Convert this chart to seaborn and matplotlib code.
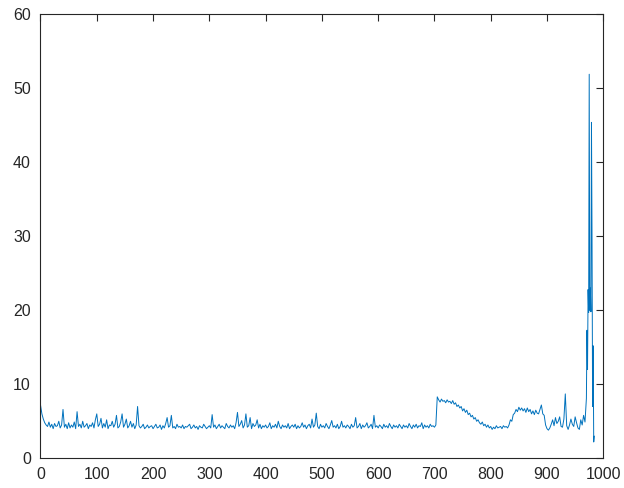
import numpy as np
import pandas as pd
import matplotlib
matplotlib.use("Agg")
import matplotlib.pyplot as plt
import seaborn as sns

# readings every 2.5 units from 0 to 967.5, grouped by 50-unit spans
y_000 = [7.2, 6.0, 5.3, 4.8, 4.5, 4.3, 4.9, 4.2, 4.6, 4.0, 4.7, 4.3, 4.4, 5.0, 4.1, 4.5, 6.6, 4.2, 4.6, 4.0]
y_050 = [4.8, 4.1, 4.5, 4.2, 4.9, 4.0, 6.3, 4.3, 4.6, 4.1, 5.0, 4.2, 4.4, 4.7, 4.0, 4.5, 4.3, 4.8, 4.1, 5.2]
y_100 = [6.0, 4.3, 4.6, 5.4, 4.1, 4.7, 4.2, 5.2, 4.0, 4.5, 4.4, 5.0, 4.2, 4.6, 5.8, 4.1, 4.3, 4.9, 6.0, 4.2]
y_150 = [4.6, 5.3, 4.1, 4.4, 5.0, 4.2, 4.7, 4.0, 4.5, 7.0, 4.4, 4.1, 4.3, 4.6, 4.0, 4.2, 4.5, 4.1, 4.3, 4.4]
y_200 = [4.0, 4.3, 4.6, 4.1, 4.2, 4.5, 3.9, 4.4, 4.1, 4.7, 5.5, 4.2, 4.4, 5.8, 4.1, 4.3, 4.0, 4.6, 4.2, 4.3]
y_250 = [4.1, 4.5, 4.0, 4.3, 4.2, 4.4, 4.6, 4.0, 4.2, 4.5, 4.1, 4.3, 3.9, 4.4, 4.2, 4.1, 4.6, 4.3, 4.0, 4.2]
y_300 = [4.4, 4.1, 5.9, 4.2, 4.5, 4.0, 4.3, 4.6, 4.1, 4.4, 4.2, 4.0, 4.7, 4.3, 4.1, 4.5, 4.2, 4.4, 4.0, 4.8]
y_350 = [6.2, 4.3, 4.6, 5.1, 4.1, 4.5, 6.0, 4.2, 4.4, 5.5, 4.0, 4.7, 4.3, 4.5, 5.2, 4.1, 4.6, 4.0, 4.4, 4.2]
y_400 = [4.5, 4.1, 4.3, 4.8, 4.0, 4.4, 4.2, 4.6, 4.1, 5.0, 4.3, 4.0, 4.5, 4.2, 4.4, 4.1, 4.7, 4.0, 4.3, 4.5]
y_450 = [4.2, 4.6, 4.0, 4.4, 4.1, 4.3, 4.8, 4.2, 4.5, 4.0, 4.4, 4.6, 4.1, 5.3, 4.2, 4.5, 6.1, 4.3, 4.0, 4.6]
y_500 = [4.2, 4.4, 4.1, 4.7, 4.3, 4.0, 4.5, 5.1, 4.2, 4.4, 4.1, 4.6, 4.0, 4.3, 5.0, 4.2, 4.4, 4.1, 4.5, 4.3]
y_550 = [4.0, 4.6, 4.2, 4.4, 5.5, 4.1, 4.3, 4.7, 4.0, 4.5, 4.2, 4.4, 4.8, 4.1, 4.3, 4.6, 4.0, 5.8, 4.2, 4.4]
y_600 = [4.1, 4.5, 4.3, 4.0, 4.6, 4.2, 4.4, 4.1, 4.7, 4.3, 4.0, 4.5, 4.2, 4.4, 4.1, 4.6, 4.3, 4.0, 4.5, 4.2]
y_650 = [4.4, 4.1, 4.7, 4.3, 4.0, 4.5, 4.2, 4.6, 4.1, 4.4, 4.3, 4.8, 4.0, 4.5, 4.2, 4.4, 4.1, 4.6, 4.3, 4.4]
y_700 = [4.2, 4.5, 8.3, 7.9, 7.6, 8.0, 7.7, 7.8, 7.5, 7.9, 7.6, 7.7, 7.4, 7.8, 7.3, 7.5, 7.0, 7.2, 6.8, 7.0]
y_750 = [6.4, 6.7, 6.2, 6.5, 5.9, 6.1, 5.6, 5.8, 5.3, 5.5, 5.0, 5.2, 4.8, 4.6, 4.9, 4.4, 4.6, 4.2, 4.5, 4.1]
y_800 = [4.3, 3.9, 4.2, 4.0, 4.4, 4.1, 4.2, 4.3, 4.0, 4.4, 4.2, 4.3, 4.1, 4.5, 5.2, 5.0, 5.9, 6.1, 6.6, 6.3]
y_850 = [6.9, 6.5, 6.8, 6.4, 6.7, 6.2, 6.8, 6.3, 6.6, 6.0, 6.4, 5.9, 6.5, 6.1, 6.0, 6.6, 7.2, 6.0, 5.8, 4.5]
y_900 = [4.0, 3.8, 4.1, 4.6, 5.2, 4.4, 5.5, 4.7, 5.0, 5.6, 4.3, 4.2, 5.3, 8.7, 4.4, 3.9, 4.5, 5.3, 4.6, 4.3]
y_950 = [5.6, 4.8, 4.1, 3.9, 5.2, 4.5, 5.8, 4.9]

# final burst, readings every 1 unit
x_tail = [970, 971, 972, 973, 974, 975, 976, 977, 978, 979, 980, 981, 982, 983, 984]
y_tail = [8.1, 17.3, 12.0, 22.8, 19.7, 51.9, 20.0, 23.0, 19.8, 45.4, 30.0, 7.0, 15.2, 2.2, 3.0]

y_body = (y_000 + y_050 + y_100 + y_150 + y_200 + y_250 + y_300 + y_350 + y_400 +
          y_450 + y_500 + y_550 + y_600 + y_650 + y_700 + y_750 + y_800 + y_850 +
          y_900 + y_950)
x_body = [i * 2.5 for i in range(len(y_body))]

df = pd.DataFrame({"x": x_body + x_tail, "y": y_body + y_tail})

sns.set_style("white")
plt.rcParams["font.family"] = ["Liberation Sans", "DejaVu Sans"]

fig = plt.figure(figsize=(6.24, 4.88), dpi=100)
ax = fig.add_axes([0.0649, 0.0609, 0.9019, 0.9098])

sns.lineplot(data=df, x="x", y="y", ax=ax, color="#0072BD", linewidth=0.7,
             estimator=None, sort=False)

ax.set_xlim(0, 1000)
ax.set_ylim(0, 60)
ax.set_xticks(range(0, 1001, 100))
ax.set_yticks(range(0, 61, 10))
ax.set_xlabel("")
ax.set_ylabel("")
for s in ax.spines.values():
    s.set_visible(True)
    s.set_color("#262626")
    s.set_linewidth(0.8)
ax.tick_params(direction="in", top=True, right=True, length=5, width=0.8,
               colors="#262626", labelsize=11.5, pad=6)
ax.tick_params(axis="y", pad=7)

fig.savefig("out.png", dpi=100)
